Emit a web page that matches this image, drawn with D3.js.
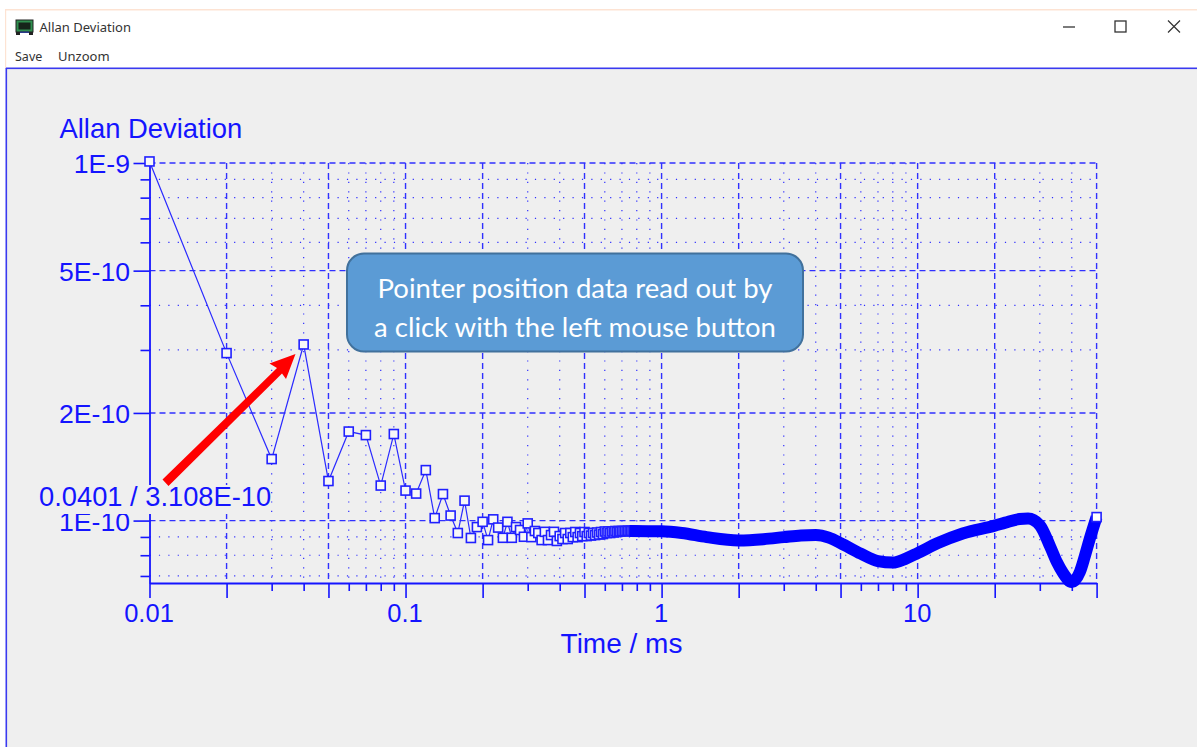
<!DOCTYPE html>
<html lang="en">
<head>
<meta charset="UTF-8">
<title>Allan Deviation</title>
<script src="https://cdn.jsdelivr.net/npm/d3@7"></script>
<style>
  html, body { margin: 0; padding: 0; background: #fff; overflow: hidden; }
  svg { display: block; }
</style>
</head>
<body>
<script>
// single samples, 0.01 ms apart, drawn as square markers
var sampleTime = [0.01,0.02,0.03,0.04,0.05,0.06,0.07,0.08,0.09,0.10,
  0.11,0.12,0.13,0.14,0.15,0.16,0.17,0.18,0.19,0.20,
  0.21,0.22,0.23,0.24,0.25,0.26,0.27,0.28,0.29,0.30,
  0.31,0.32,0.33,0.34,0.35,0.36,0.37,0.38,0.39,0.40,
  0.41,0.42,0.43,0.44,0.45,0.46,0.47,0.48,0.49,0.50,
  0.51,0.52,0.53,0.54,0.55,0.56,0.57,0.58,0.59,0.60,
  0.61,0.62,0.63,0.64,0.65,0.66,0.67,0.68,0.69,0.70,
  0.71,0.72,0.73,0.74,0.75,0.76,0.77,0.78,0.79,0.80];
var sampleDev = [1.01e-9,2.94e-10,1.486e-10,3.108e-10,1.29e-10,1.774e-10,1.734e-10,1.253e-10,1.746e-10,1.213e-10,
  1.19e-10,1.384e-10,1.016e-10,1.186e-10,1.033e-10,9.23e-11,1.137e-10,8.94e-11,9.59e-11,9.92e-11,
  8.82e-11,1.008e-10,9.56e-11,8.95e-11,9.92e-11,8.95e-11,9.59e-11,9.41e-11,9.01e-11,9.82e-11,
  8.99e-11,9.35e-11,9.23e-11,8.82e-11,9.30e-11,8.82e-11,9.11e-11,9.30e-11,8.77e-11,9.05e-11,
  8.88e-11,9.23e-11,8.88e-11,9.23e-11,8.99e-11,9.29e-11,8.99e-11,9.23e-11,9.05e-11,9.29e-11,
  9.05e-11,9.23e-11,9.08e-11,9.23e-11,9.11e-11,9.26e-11,9.14e-11,9.29e-11,9.17e-11,9.32e-11,
  9.23e-11,9.32e-11,9.23e-11,9.32e-11,9.26e-11,9.35e-11,9.29e-11,9.35e-11,9.32e-11,9.35e-11,
  9.34e-11,9.35e-11,9.35e-11,9.36e-11,9.35e-11,9.36e-11,9.35e-11,9.35e-11,9.34e-11,9.34e-11];

// beyond about 0.75 ms the markers merge into one solid band
var bandTime = [0.75,1,1.2,1.5,2,2.5,3,3.5,4,4.5,5,6,7,8,9,10,12,15,20,22,25,27,30,33,35,37,40,43,45,47,50];
var bandDev = [9.35e-11,9.33e-11,9.23e-11,8.99e-11,8.8e-11,8.87e-11,8.99e-11,9.09e-11,9.11e-11,8.96e-11,
  8.65e-11,8.08e-11,7.7e-11,7.63e-11,7.83e-11,8.11e-11,8.65e-11,9.2e-11,9.68e-11,9.87e-11,1.0097e-10,
  1.013e-10,9.71e-11,8.43e-11,7.65e-11,7.13e-11,6.73e-11,7.18e-11,7.96e-11,8.88e-11,1.0228e-10];

var xMajor = [0.01,0.02,0.05,0.1,0.2,0.5,1,2,5,10,20,50];
var xMinor = [0.03,0.04,0.06,0.07,0.08,0.09,0.3,0.4,0.6,0.7,0.8,0.9,3,4,6,7,8,9,30,40];
var xLabels = [0.01,0.1,1,10];
var yMajor = [1e-9,5e-10,2e-10,1e-10];
var yMinor = [9e-10,8e-10,7e-10,6e-10,4e-10,3e-10,9e-11,8e-11,7e-11];
var yLabels = {"1e-9":"1E-9","5e-10":"5E-10","2e-10":"2E-10","1e-10":"1E-10"};

var blue = "#1414ff";
var font = "'Liberation Sans', Arial, sans-serif";

var svg = d3.select("body").append("svg").attr("width", 1197).attr("height", 747);

var x = d3.scaleLog().domain([0.01, 50]).range([149.5, 1096.6]);
var y = d3.scaleLog().domain([1e-9, 6.69e-11]).range([163, 583]);

// window frame
svg.append("rect").attr("x", 5).attr("y", 9).attr("width", 1192).attr("height", 1.5).attr("fill", "#fde3d3");
svg.append("rect").attr("x", 5).attr("y", 9).attr("width", 1.2).attr("height", 60).attr("fill", "#fde3d3");
svg.append("rect").attr("x", 6).attr("y", 68).attr("width", 1191).attr("height", 679).attr("fill", "#efefef");
svg.append("rect").attr("x", 6).attr("y", 67.5).attr("width", 1191).attr("height", 1.6).attr("fill", "#3a3af0");
svg.append("rect").attr("x", 5.5).attr("y", 68).attr("width", 1.6).attr("height", 679).attr("fill", "#3a3af0");

// app icon
var icon = svg.append("g");
icon.append("rect").attr("x", 16).attr("y", 20).attr("width", 17).attr("height", 12).attr("fill", "#2f8f4f").attr("stroke", "#222");
icon.append("rect").attr("x", 18.5).attr("y", 22.5).attr("width", 12).attr("height", 7).attr("fill", "#16241a");
icon.append("rect").attr("x", 16).attr("y", 32).attr("width", 4).attr("height", 3).attr("fill", "#222");
icon.append("rect").attr("x", 29).attr("y", 32).attr("width", 4).attr("height", 3).attr("fill", "#222");
icon.append("rect").attr("x", 20).attr("y", 31.5).attr("width", 9).attr("height", 1.5).attr("fill", "#2a3a8a");

var uiFont = "'Noto Sans', 'Open Sans', sans-serif";
svg.append("text").attr("x", 39.5).attr("y", 32).attr("font-family", uiFont).attr("font-size", 13).attr("fill", "#333").text("Allan Deviation");
svg.append("text").attr("x", 15).attr("y", 60.5).attr("font-family", uiFont).attr("font-size", 12.5).attr("fill", "#333").text("Save");
svg.append("text").attr("x", 58).attr("y", 60.5).attr("font-family", uiFont).attr("font-size", 13).attr("fill", "#333").text("Unzoom");

// window buttons
svg.append("line").attr("x1", 1063).attr("x2", 1075).attr("y1", 27).attr("y2", 27).attr("stroke", "#333").attr("stroke-width", 1.3);
svg.append("rect").attr("x", 1115).attr("y", 21).attr("width", 11).attr("height", 11).attr("fill", "none").attr("stroke", "#333").attr("stroke-width", 1.3);
svg.append("path").attr("d", "M1168,20.5L1180,32.5M1180,20.5L1168,32.5").attr("stroke", "#333").attr("stroke-width", 1.2);

// grid
var grid = svg.append("g").attr("fill", "none").attr("stroke", "#3030ff");
function vGrid(list, dash, w) {
  grid.selectAll(null).data(list).enter().append("line")
    .attr("x1", function(d) { return x(d); }).attr("x2", function(d) { return x(d); })
    .attr("y1", 163).attr("y2", 583)
    .attr("stroke-width", w).attr("stroke-dasharray", dash);
}
function hGrid(list, dash, w) {
  grid.selectAll(null).data(list).enter().append("line")
    .attr("x1", 149.5).attr("x2", 1096.6)
    .attr("y1", function(d) { return y(d); }).attr("y2", function(d) { return y(d); })
    .attr("stroke-width", w).attr("stroke-dasharray", dash);
}
vGrid(xMinor, "1.2,8.2", 1.2);
hGrid(yMinor, "1.2,8.2", 1.2);
vGrid(xMajor.slice(1), "6,4", 1.4);
hGrid(yMajor, "6,4", 1.4);

// axes
var xAxis = d3.axisBottom(x)
  .tickValues(xMajor.concat(xMinor))
  .tickSizeOuter(0)
  .tickPadding(0)
  .tickFormat(function(d) { return xLabels.indexOf(d) >= 0 ? String(d) : ""; });
var gx = svg.append("g").attr("transform", "translate(0,583)").call(xAxis);
gx.selectAll(".tick line")
  .attr("y2", function(d) { return xMajor.indexOf(d) >= 0 ? 15 : 8; })
  .attr("stroke", blue).attr("stroke-width", 1.6);
gx.select(".domain").attr("stroke", blue).attr("stroke-width", 1.8);
gx.selectAll(".tick text")
  .attr("y", 39).attr("dy", 0).attr("dx", -1)
  .attr("font-family", font).attr("font-size", 25.5).attr("fill", blue);

var yAxis = d3.axisLeft(y)
  .tickValues(yMajor.concat(yMinor))
  .tickSizeOuter(0)
  .tickFormat(function(d) { return yLabels[String(d)] || ""; });
var gy = svg.append("g").attr("transform", "translate(149.5,0)").call(yAxis);
gy.selectAll(".tick line")
  .attr("x2", function(d) { return yMajor.indexOf(d) >= 0 ? -16 : -9; })
  .attr("stroke", blue).attr("stroke-width", 1.6);
gy.select(".domain").attr("stroke", blue).attr("stroke-width", 1.8);
gy.selectAll(".tick text")
  .attr("x", -19.5).attr("dy", "0.36em")
  .attr("font-family", font).attr("font-size", 26.6).attr("fill", blue);

svg.append("text").attr("x", 59.5).attr("y", 138).attr("font-family", font).attr("font-size", 27.4).attr("fill", blue).text("Allan Deviation");
svg.append("text").attr("x", 621.5).attr("y", 653).attr("text-anchor", "middle").attr("font-family", font).attr("font-size", 28).attr("fill", blue).text("Time / ms");

// data
var line = d3.line()
  .x(function(d) { return x(d[0]); })
  .y(function(d) { return y(d[1]); });
var samples = d3.zip(sampleTime, sampleDev);
var band = d3.zip(bandTime, bandDev);

svg.append("path").datum(samples).attr("d", line)
  .attr("fill", "none").attr("stroke", "#2a2aff").attr("stroke-width", 1.2);

svg.selectAll("rect.mark").data(samples).enter().append("rect").attr("class", "mark")
  .attr("x", function(d) { return x(d[0]) - 4.5; })
  .attr("y", function(d) { return y(d[1]) - 4.5; })
  .attr("width", 9).attr("height", 9)
  .attr("fill", "#f7f7f7").attr("stroke", "#2020ff").attr("stroke-width", 1.6);

svg.append("path").datum(band)
  .attr("d", line.curve(d3.curveMonotoneX))
  .attr("fill", "none").attr("stroke", "#0000ff").attr("stroke-width", 12).attr("stroke-linecap", "butt");

// last sample keeps its marker on top of the band
svg.append("rect").datum(band[band.length - 1])
  .attr("x", function(d) { return x(d[0]) - 4.5; })
  .attr("y", function(d) { return y(d[1]) - 4.5; })
  .attr("width", 9).attr("height", 9)
  .attr("fill", "#fff").attr("stroke", "#2020ff").attr("stroke-width", 1.6);

// read-out of the pointer position, painted over the axis
svg.append("rect").attr("x", 39).attr("y", 485).attr("width", 232).attr("height", 29).attr("fill", "#efefef");
svg.append("text").attr("x", 39).attr("y", 506).attr("font-family", font).attr("font-size", 27.3).attr("fill", blue).text("0.0401 / 3.108E-10");

// red arrow
svg.append("path")
  .attr("d", "M162.5,479.5L277,368L269.5,363.5L295.5,354L286,379L282,373.5L168.5,486Z")
  .attr("fill", "#ff0000");

// callout
svg.append("rect").attr("x", 347).attr("y", 253.5).attr("width", 456).attr("height", 98).attr("rx", 17)
  .attr("fill", "#5b9bd5").attr("stroke", "#41719c").attr("stroke-width", 2);
svg.append("text").attr("x", 575).attr("y", 297.5).attr("text-anchor", "middle").attr("font-family", "Lato, 'Open Sans', sans-serif")
  .attr("font-size", 27.5).attr("fill", "#fff").text("Pointer position data read out by");
svg.append("text").attr("x", 575).attr("y", 336.5).attr("text-anchor", "middle").attr("font-family", "Lato, 'Open Sans', sans-serif")
  .attr("font-size", 27.5).attr("fill", "#fff").text("a click with the left mouse button");
</script>
</body>
</html>
